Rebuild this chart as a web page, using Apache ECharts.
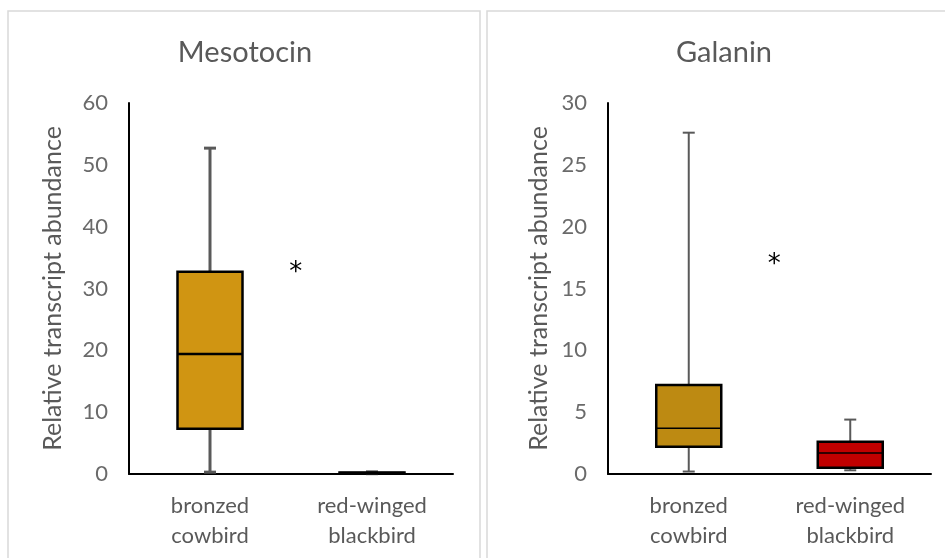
<!DOCTYPE html>
<html>
<head>
<meta charset="utf-8">
<script src="https://cdn.jsdelivr.net/npm/echarts@6/dist/echarts.min.js"></script>
<style>
  html, body { margin: 0; padding: 0; background: #fff; }
  #chart { width: 945px; height: 558px; }
</style>
</head>
<body>
<div id="chart"></div>
<script>
// Species on the x axis
const categories = ['bronzed\ncowbird', 'red-winged\nblackbird'];

// Box summaries per species: [min, Q1, median, Q3, max]
const mesotocinStats = [
  [0.3, 7.3, 19.4, 32.7, 52.7],
  [0.05, 0.1, 0.15, 0.25, 0.35]
];
const galaninStats = [
  [0.2, 2.2, 3.7, 7.2, 27.6],
  [0.3, 0.5, 1.7, 2.6, 4.4]
];

// Significance markers: [position between categories, value]
const mesotocinStar = [[0.53, 32.4]];
const galaninStar = [[0.53, 16.9]];

// Y axis ranges and tick steps
const mesotocinAxis = { max: 60, interval: 10 };
const galaninAxis = { max: 30, interval: 5 };

const boxColors = {
  mesotocin: ['#D09512', '#D09512'],
  galanin: ['#BD8A12', '#C00000']
};

const FONT = 'Lato';
const GRAY = '#595959';
const TICK_GRAY = '#6a6a6a';

function boxRender(fills, whiskerWidth, medianWidth) {
  return function (params, api) {
    const idx = api.value(0);
    const lo = api.value(1), q1 = api.value(2), med = api.value(3), q3 = api.value(4), hi = api.value(5);
    const pLo = api.coord([idx, lo]);
    const pQ1 = api.coord([idx, q1]);
    const pMed = api.coord([idx, med]);
    const pQ3 = api.coord([idx, q3]);
    const pHi = api.coord([idx, hi]);
    const x = pMed[0];
    const half = 32.5;
    const cap = 6;
    const whisk = { stroke: GRAY, lineWidth: whiskerWidth };
    return {
      type: 'group',
      children: [
        { type: 'line', shape: { x1: x, y1: pHi[1], x2: x, y2: pQ3[1] }, style: whisk },
        { type: 'line', shape: { x1: x - cap, y1: pHi[1], x2: x + cap, y2: pHi[1] }, style: whisk },
        { type: 'line', shape: { x1: x, y1: pQ1[1], x2: x, y2: pLo[1] }, style: whisk },
        { type: 'line', shape: { x1: x - cap, y1: pLo[1], x2: x + cap, y2: pLo[1] }, style: whisk },
        {
          type: 'rect',
          shape: { x: x - half, y: pQ3[1], width: half * 2, height: pQ1[1] - pQ3[1] },
          style: { fill: fills[params.dataIndex], stroke: '#000', lineWidth: 2.5 }
        },
        { type: 'line', shape: { x1: x - half, y1: pMed[1], x2: x + half, y2: pMed[1] }, style: { stroke: '#000', lineWidth: medianWidth } }
      ]
    };
  };
}

function starRender(params, api) {
  const a = api.coord([0, api.value(1)]);
  const b = api.coord([1, api.value(1)]);
  const t = api.value(0);
  return {
    type: 'text',
    style: {
      text: '*', x: a[0] + (b[0] - a[0]) * t, y: a[1],
      fill: '#000', font: '26px "DejaVu Sans"', align: 'center', verticalAlign: 'middle'
    }
  };
}

function toRows(stats) {
  return stats.map((s, i) => [i].concat(s));
}

function yAxisFor(gap, range) {
  return Object.assign({
    type: 'value', min: 0,
    name: 'Relative transcript abundance', nameLocation: 'middle', nameGap: gap,
    nameTextStyle: { color: GRAY, fontFamily: FONT, fontSize: 25 },
    axisLine: { show: true, lineStyle: { color: '#000', width: 2 } },
    axisTick: { show: false },
    splitLine: { show: false },
    axisLabel: { color: TICK_GRAY, fontFamily: FONT, fontSize: 22, margin: 21 }
  }, range);
}
const xAxisCommon = {
  type: 'category', data: categories,
  axisLine: { lineStyle: { color: '#000', width: 2 } },
  axisTick: { show: false },
  axisLabel: { color: GRAY, fontFamily: FONT, fontSize: 22, lineHeight: 30, margin: 17 }
};

const chart = echarts.init(document.getElementById('chart'), null, { renderer: 'canvas' });
chart.setOption({
  backgroundColor: '#fff',
  animation: false,
  graphic: [
    { type: 'rect', shape: { x: 8, y: 11, width: 472, height: 560 }, style: { fill: 'none', stroke: '#d9d9d9', lineWidth: 1.5 } },
    { type: 'rect', shape: { x: 487, y: 11, width: 470, height: 560 }, style: { fill: 'none', stroke: '#d9d9d9', lineWidth: 1.5 } }
  ],
  title: [
    { text: 'Mesotocin', left: 240, top: 33, textAlign: 'center', textStyle: { color: GRAY, fontFamily: FONT, fontSize: 29, fontWeight: 'normal' } },
    { text: 'Galanin', left: 719, top: 33, textAlign: 'center', textStyle: { color: GRAY, fontFamily: FONT, fontSize: 29, fontWeight: 'normal' } }
  ],
  grid: [
    { left: 129, right: 492, top: 103, bottom: 84 },
    { left: 608, right: 14, top: 103, bottom: 84 }
  ],
  xAxis: [
    Object.assign({ gridIndex: 0 }, xAxisCommon),
    Object.assign({ gridIndex: 1 }, xAxisCommon)
  ],
  yAxis: [
    Object.assign({ gridIndex: 0 }, yAxisFor(64, mesotocinAxis)),
    Object.assign({ gridIndex: 1 }, yAxisFor(57, galaninAxis))
  ],
  series: [
    { type: 'custom', xAxisIndex: 0, yAxisIndex: 0, data: toRows(mesotocinStats), renderItem: boxRender(boxColors.mesotocin, 3, 2.5) },
    { type: 'custom', xAxisIndex: 1, yAxisIndex: 1, data: toRows(galaninStats), renderItem: boxRender(boxColors.galanin, 2, 1.5) },
    { type: 'custom', xAxisIndex: 0, yAxisIndex: 0, data: mesotocinStar, renderItem: starRender },
    { type: 'custom', xAxisIndex: 1, yAxisIndex: 1, data: galaninStar, renderItem: starRender }
  ]
});
</script>
</body>
</html>
